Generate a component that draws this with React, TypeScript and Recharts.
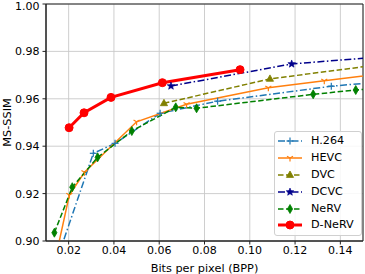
import React from 'react';
import { LineChart, Line, XAxis, YAxis, CartesianGrid, ReferenceArea, Label } from 'recharts';

const xTicks = [0.02, 0.04, 0.06, 0.08, 0.1, 0.12, 0.14];
const yTicks = [0.9, 0.92, 0.94, 0.96, 0.98, 1.0];

const h264X = [0.0141, 0.0309, 0.0405, 0.0604, 0.0858, 0.136, 0.17];
const h264Y = [0.89, 0.937, 0.9412, 0.9539, 0.959, 0.9653, 0.9682];

const hevcX = [0.0145, 0.0203, 0.027, 0.05, 0.0721, 0.1082, 0.1329, 0.17];
const hevcY = [0.894, 0.9194, 0.929, 0.9503, 0.9577, 0.9647, 0.9676, 0.9719];

const dvcX = [0.0621, 0.1089, 0.17];
const dvcY = [0.9581, 0.9684, 0.976];

const dcvcX = [0.0652, 0.1185, 0.17];
const dcvcY = [0.9654, 0.9747, 0.9786];

const nervX = [0.0137, 0.0216, 0.0328, 0.0479, 0.0673, 0.0765, 0.128, 0.1468, 0.17];
const nervY = [0.9035, 0.9227, 0.9353, 0.9464, 0.9564, 0.956, 0.9619, 0.9637, 0.9655];

const dnervX = [0.0202, 0.0268, 0.0387, 0.0614, 0.0957];
const dnervY = [0.9478, 0.9541, 0.9606, 0.9668, 0.9723];

const zip = (xs: number[], ys: number[]) => xs.map((x, i) => ({ x, y: ys[i] }));

type MarkerKind = 'plus' | 'tridown' | 'triangle' | 'star' | 'thindiamond' | 'circle';

function Marker({ kind, cx, cy, color }: { kind: MarkerKind; cx: number; cy: number; color: string }) {
  switch (kind) {
    case 'plus':
      return (
        <g stroke={color} strokeWidth={1.2}>
          <line x1={cx - 3.5} y1={cy} x2={cx + 3.5} y2={cy} />
          <line x1={cx} y1={cy - 3.5} x2={cx} y2={cy + 3.5} />
        </g>
      );
    case 'tridown': {
      const r = 3.5;
      return (
        <g stroke={color} strokeWidth={1.2}>
          <line x1={cx} y1={cy} x2={cx} y2={cy + r} />
          <line x1={cx} y1={cy} x2={cx - 0.866 * r} y2={cy - 0.5 * r} />
          <line x1={cx} y1={cy} x2={cx + 0.866 * r} y2={cy - 0.5 * r} />
        </g>
      );
    }
    case 'triangle': {
      const r = 4;
      return (
        <polygon
          points={`${cx},${cy - r} ${cx - 0.9 * r},${cy + 0.6 * r} ${cx + 0.9 * r},${cy + 0.6 * r}`}
          fill={color}
          stroke={color}
          strokeWidth={0.8}
        />
      );
    }
    case 'star': {
      const R = 4, r = 1.7;
      const pts: string[] = [];
      for (let i = 0; i < 10; i++) {
        const a = -Math.PI / 2 + (i * Math.PI) / 5;
        const rad = i % 2 === 0 ? R : r;
        pts.push(`${cx + rad * Math.cos(a)},${cy + rad * Math.sin(a)}`);
      }
      return <polygon points={pts.join(' ')} fill={color} stroke={color} strokeWidth={0.6} />;
    }
    case 'thindiamond':
      return (
        <polygon
          points={`${cx},${cy - 4.5} ${cx - 2.6},${cy} ${cx},${cy + 4.5} ${cx + 2.6},${cy}`}
          fill={color}
          stroke={color}
          strokeWidth={0.8}
        />
      );
    case 'circle':
    default:
      return <circle cx={cx} cy={cy} r={4} fill={color} stroke={color} />;
  }
}

const makeDot = (kind: MarkerKind, color: string) => (props: any) => {
  const { cx, cy, index } = props;
  if (cx == null || cy == null) return <g key={`d-${index}`} />;
  return <Marker key={`d-${kind}-${index}`} kind={kind} cx={cx} cy={cy} color={color} />;
};

const seriesDefs = [
  { name: 'H.264', data: zip(h264X, h264Y), color: '#1f77b4', dash: '7 2.5 1.5 2.5', width: 1.5, kind: 'plus' as MarkerKind },
  { name: 'HEVC', data: zip(hevcX, hevcY), color: '#ff7f0e', dash: undefined, width: 1.5, kind: 'tridown' as MarkerKind },
  { name: 'DVC', data: zip(dvcX, dvcY), color: '#808000', dash: '5.5 2.5', width: 1.5, kind: 'triangle' as MarkerKind },
  { name: 'DCVC', data: zip(dcvcX, dcvcY), color: '#00008b', dash: '7 2.5 1.5 2.5', width: 1.5, kind: 'star' as MarkerKind },
  { name: 'NeRV', data: zip(nervX, nervY), color: '#008000', dash: '5.5 2.5', width: 1.5, kind: 'thindiamond' as MarkerKind },
  { name: 'D-NeRV', data: zip(dnervX, dnervY), color: '#ff0000', dash: undefined, width: 3, kind: 'circle' as MarkerKind },
];

const FONT = '"DejaVu Sans", sans-serif';

function LegendBox() {
  return (
    <div
      style={{
        position: 'absolute',
        left: 274,
        top: 131,
        width: 88,
        height: 105,
        boxSizing: 'border-box',
        border: '1px solid #d0d0d0',
        borderRadius: 3,
        background: 'rgba(255,255,255,0.85)',
        fontFamily: FONT,
        fontSize: 11.2,
        color: '#000',
        paddingTop: 1,
      }}
    >
      {seriesDefs.map((s) => (
        <div key={s.name} style={{ display: 'flex', alignItems: 'center', height: 16.8 }}>
          <svg width={34} height={12} style={{ display: 'block', flex: 'none' }}>
            <line x1={3} y1={6} x2={27} y2={6} stroke={s.color} strokeWidth={s.width} strokeDasharray={s.dash} />
            <Marker kind={s.kind} cx={15} cy={6} color={s.color} />
          </svg>
          <span style={{ marginLeft: 2, lineHeight: '12px' }}>{s.name}</span>
        </div>
      ))}
    </div>
  );
}

export default function App() {
  return (
    <div style={{ position: 'absolute', left: 0, top: 0, width: 365, height: 274, background: '#fff' }}>
      <LineChart width={365} height={274} margin={{ top: 4, right: 2, left: 0, bottom: 0 }}>
        <CartesianGrid stroke="#c8c8c8" strokeWidth={0.9} />
        <XAxis
          type="number"
          dataKey="x"
          domain={[0.01, 0.15]}
          ticks={xTicks}
          allowDataOverflow
          height={33}
          tickFormatter={(v: number) => v.toFixed(2)}
          tick={{ fontFamily: FONT, fontSize: 11, fill: '#000' }}
          tickSize={3.5}
          tickMargin={1.5}
          axisLine={{ stroke: '#222' }}
          tickLine={{ stroke: '#222' }}
        >
          <Label
            value="Bits per pixel (BPP)"
            position="insideBottom"
            offset={2}
            style={{ fontFamily: FONT, fontSize: 11.3, fill: '#000' }}
          />
        </XAxis>
        <YAxis
          type="number"
          dataKey="y"
          domain={[0.9, 1.0]}
          ticks={yTicks}
          allowDataOverflow
          width={46}
          tickFormatter={(v: number) => v.toFixed(2)}
          tick={{ fontFamily: FONT, fontSize: 11, fill: '#000' }}
          tickSize={3.5}
          tickMargin={3}
          axisLine={{ stroke: '#222' }}
          tickLine={{ stroke: '#222' }}
        >
          <Label
            content={() => (
              <text
                x={7.5}
                y={122.5}
                transform="rotate(-90 7.5 122.5)"
                textAnchor="middle"
                dominantBaseline="central"
                style={{ fontFamily: FONT, fontSize: 11.3, fill: '#000' }}
              >
                MS-SSIM
              </text>
            )}
          />
        </YAxis>
        {seriesDefs.map((s) => (
          <Line
            key={s.name}
            name={s.name}
            data={s.data}
            dataKey="y"
            type="linear"
            stroke={s.color}
            strokeWidth={s.width}
            strokeDasharray={s.dash}
            dot={makeDot(s.kind, s.color)}
            activeDot={false}
            isAnimationActive={false}
          />
        ))}
        <ReferenceArea x1={0.01} x2={0.15} y1={0.9} y2={1.0} fill="none" stroke="#222" strokeWidth={1} />
      </LineChart>
      <LegendBox />
    </div>
  );
}
